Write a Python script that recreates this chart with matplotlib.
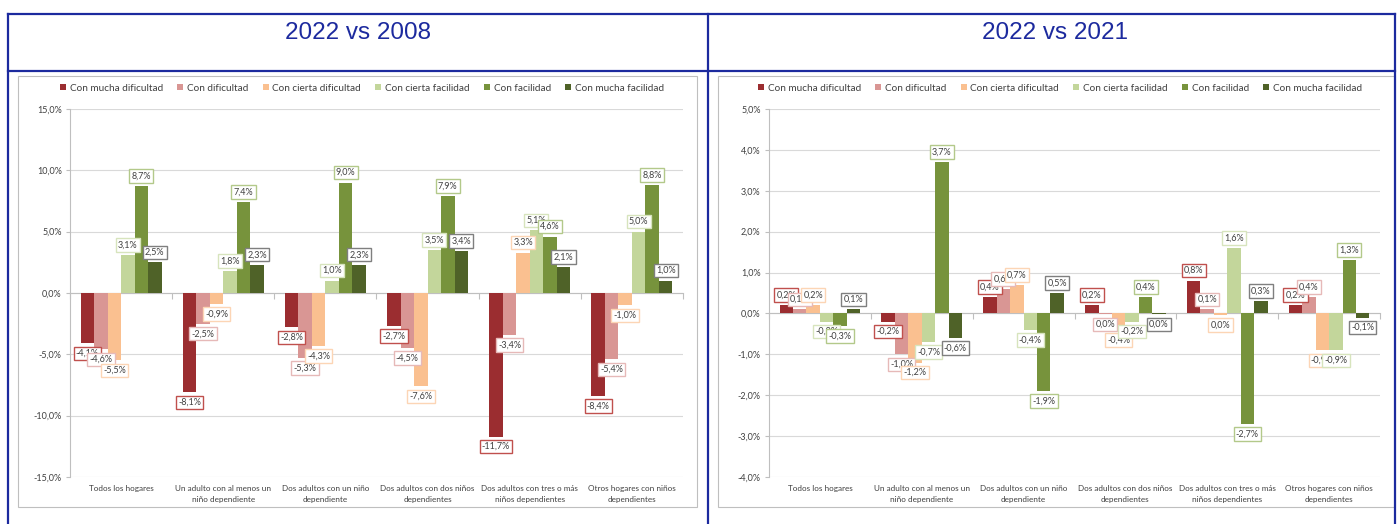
import numpy as np
import matplotlib
matplotlib.use("Agg")
import matplotlib.pyplot as plt
from matplotlib.patches import Rectangle
from matplotlib.lines import Line2D

# datos
categorias = ["Todos los hogares", "Un adulto con al menos un\nniño dependiente",
              "Dos adultos con un niño\ndependiente", "Dos adultos con dos niños\ndependientes",
              "Dos adultos con tres o más\nniños dependientes", "Otros hogares con niños\ndependientes"]
series = ["Con mucha dificultad", "Con dificultad", "Con cierta dificultad",
          "Con cierta facilidad", "Con facilidad", "Con mucha facilidad"]

# 2022 vs 2008 (una lista por serie, en el orden de categorias)
v2008_mucha_dif = [-4.1, -8.1, -2.8, -2.7, -11.7, -8.4]
v2008_dif = [-4.6, -2.5, -5.3, -4.5, -3.4, -5.4]
v2008_cierta_dif = [-5.5, -0.9, -4.3, -7.6, 3.3, -1.0]
v2008_cierta_fac = [3.1, 1.8, 1.0, 3.5, 5.1, 5.0]
v2008_fac = [8.7, 7.4, 9.0, 7.9, 4.6, 8.8]
v2008_mucha_fac = [2.5, 2.3, 2.3, 3.4, 2.1, 1.0]

# 2022 vs 2021
v2021_mucha_dif = [0.2, -0.2, 0.4, 0.2, 0.8, 0.2]
v2021_dif = [0.1, -1.0, 0.6, -0.02, 0.1, 0.4]
v2021_cierta_dif = [0.2, -1.2, 0.7, -0.4, -0.04, -0.9]
v2021_cierta_fac = [-0.2, -0.7, -0.4, -0.2, 1.6, -0.9]
v2021_fac = [-0.3, 3.7, -1.9, 0.4, -2.7, 1.3]
v2021_mucha_fac = [0.1, -0.6, 0.5, -0.02, 0.3, -0.1]

datos_2008 = [v2008_mucha_dif, v2008_dif, v2008_cierta_dif, v2008_cierta_fac, v2008_fac, v2008_mucha_fac]
datos_2021 = [v2021_mucha_dif, v2021_dif, v2021_cierta_dif, v2021_cierta_fac, v2021_fac, v2021_mucha_fac]

colores = ["#9B2D30", "#D99694", "#FAC090", "#C3D69B", "#77933C", "#4F6228"]
bordes = ["#C0504D", "#E6B9B8", "#FCD5B5", "#D7E4BD", "#B3C98A", "#7F7F7F"]
azul = "#1C2A9E"
gris_txt = "#404040"

plt.rcParams['font.family'] = ['Lato', 'DejaVu Sans']

W, H = 1397, 524
fig = plt.figure(figsize=(W / 100, H / 100), dpi=100)


def fx(px):
    return px / W


def fy(py):
    return 1 - py / H


# tabla azul
for x in (8, 708, 1395):
    fig.add_artist(Line2D([fx(x), fx(x)], [fy(14), fy(524)], color=azul, lw=1.6))
for y in (14, 71):
    fig.add_artist(Line2D([fx(8), fx(1395)], [fy(y), fy(y)], color=azul, lw=1.6))

fig.text(fx(358), fy(33), "2022 vs 2008", ha="center", va="center", fontsize=17.5,
         color=azul, family="Liberation Sans")
fig.text(fx(1055), fy(33), "2022 vs 2021", ha="center", va="center", fontsize=17.5,
         color=azul, family="Liberation Sans")


def fmt(v):
    r = round(v, 1) + 0.0
    return f"{r:.1f}".replace(".", ",") + "%"


def grafico(box, ax_px, datos, lim, paso, leg_x):
    x0, x1 = box
    fig.add_artist(Rectangle((fx(x0), fy(507)), fx(x1) - fx(x0), fy(76) - fy(507),
                             fill=False, edgecolor="#BFBFBF", lw=0.8))
    ax = fig.add_axes([fx(ax_px[0]), fy(477), fx(ax_px[1]) - fx(ax_px[0]), fy(109) - fy(477)])
    n = len(categorias)
    x = np.arange(n)
    w = 0.132
    for i, vals in enumerate(datos):
        pos = x + (i - 2.5) * w
        ax.bar(pos, vals, width=w, color=colores[i], label=series[i], zorder=3)
        for p, v in zip(pos, vals):
            ax.annotate(fmt(v), (p, v), xytext=(0, 4 if v >= 0 else -4), textcoords="offset points",
                        ha="center", va="bottom" if v >= 0 else "top", fontsize=6.5, color=gris_txt,
                        zorder=10 + i,
                        bbox=dict(boxstyle="square,pad=0.25", fc="white", ec=bordes[i], lw=1))
    ax.set_xlim(-0.5, n - 0.5)
    ax.set_ylim(*lim)
    ticks = np.arange(lim[0], lim[1] + paso / 2, paso)
    ax.set_yticks(ticks)
    ax.set_yticklabels([f"{t:.1f}".replace(".", ",") + "%" for t in ticks], fontsize=6.5, color=gris_txt)
    ax.tick_params(axis="y", length=3, color="#BFBFBF", pad=3)
    ax.grid(axis="y", color="#D9D9D9", lw=0.8, zorder=0)
    for s in ("top", "right"):
        ax.spines[s].set_visible(False)
    ax.spines["left"].set_color("#BFBFBF")
    ax.spines["bottom"].set_position(("data", 0))
    ax.spines["bottom"].set_color("#BFBFBF")
    ax.set_xticks(np.arange(n + 1) - 0.5)
    ax.set_xticklabels([])
    ax.tick_params(axis="x", length=4, color="#BFBFBF")
    for i, c in enumerate(categorias):
        ax.text(i, -0.022, c, transform=ax.get_xaxis_transform(), ha="center", va="top",
                fontsize=5.9, color=gris_txt, linespacing=1.6)
    fig.legend(*ax.get_legend_handles_labels(), loc="center", bbox_to_anchor=(fx(leg_x), fy(88)),
               ncol=6, frameon=False, fontsize=7.2, handlelength=0.6, handleheight=0.6,
               handletextpad=0.35, columnspacing=1.45, labelcolor=gris_txt)
    return ax


grafico((18, 697), (70, 683), datos_2008, (-15, 15), 5, 362)
grafico((718, 1395), (769, 1380), datos_2021, (-4, 5), 1, 1060)

fig.savefig("out.png", dpi=100, facecolor="white")
